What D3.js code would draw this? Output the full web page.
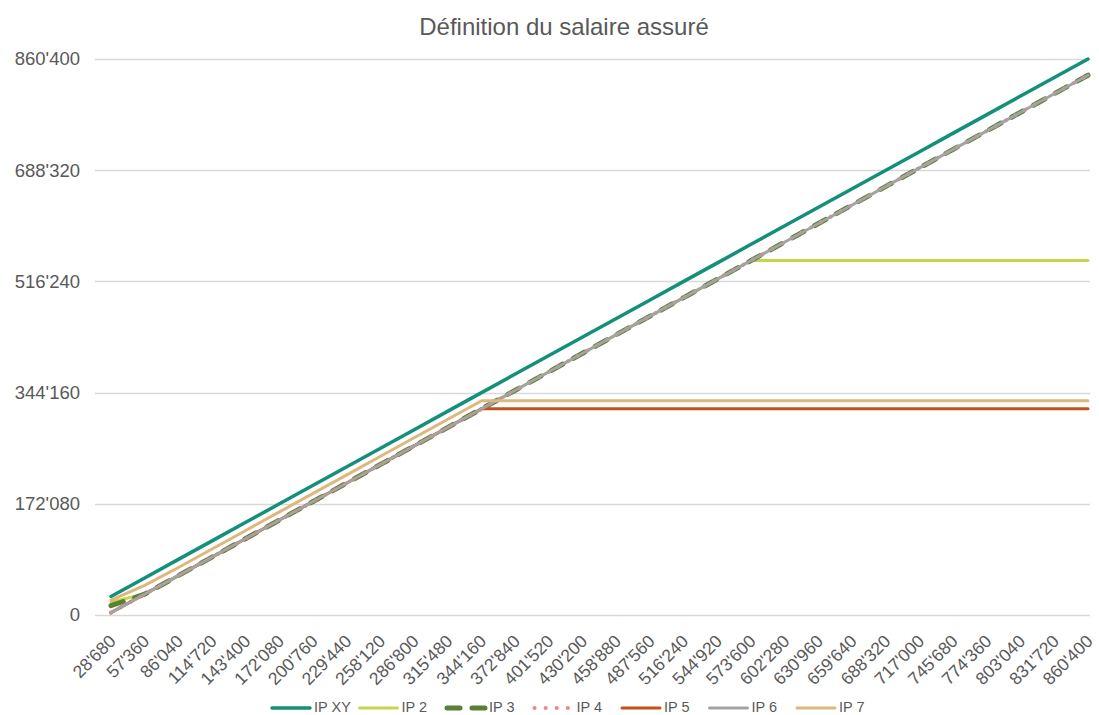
<!DOCTYPE html>
<html lang="fr">
<head>
<meta charset="utf-8">
<title>Définition du salaire assuré</title>
<script src="https://cdn.jsdelivr.net/npm/d3@7"></script>
<style>
  html, body { margin: 0; padding: 0; background: #fff; }
  svg { display: block; font-family: "Liberation Sans", Arial, sans-serif; }
</style>
</head>
<body>
<svg id="chart" width="1099" height="715"></svg>
<script>
// Salaires annuels (catégories de l'axe horizontal)
const salaries = [28680, 57360, 86040, 114720, 143400, 172080, 200760, 229440, 258120, 286800,
  315480, 344160, 372840, 401520, 430200, 458880, 487560, 516240, 544920, 573600,
  602280, 630960, 659640, 688320, 717000, 745680, 774360, 803040, 831720, 860400];

// Salaire assuré selon chaque plan
const ipXY = [28680, 57360, 86040, 114720, 143400, 172080, 200760, 229440, 258120, 286800,
  315480, 344160, 372840, 401520, 430200, 458880, 487560, 516240, 544920, 573600,
  602280, 630960, 659640, 688320, 717000, 745680, 774360, 803040, 831720, 860400];
const ip2 = [20076, 32265, 60945, 89625, 118305, 146985, 175665, 204345, 233025, 261705,
  290385, 319065, 347745, 376425, 405105, 433785, 462465, 491145, 519825, 548505,
  548505, 548505, 548505, 548505, 548505, 548505, 548505, 548505, 548505, 548505];
const ip3 = [14340, 32265, 60945, 89625, 118305, 146985, 175665, 204345, 233025, 261705,
  290385, 319065, 347745, 376425, 405105, 433785, 462465, 491145, 519825, 548505,
  577185, 605865, 634545, 663225, 691905, 720585, 749265, 777945, 806625, 835305];
const ip4 = [3585, 32265, 60945, 89625, 118305, 146985, 175665, 204345, 233025, 261705,
  290385, 319065, 347745, 376425, 405105, 433785, 462465, 491145, 519825, 548505,
  577185, 605865, 634545, 663225, 691905, 720585, 749265, 777945, 806625, 835305];
const ip5 = [3585, 32265, 60945, 89625, 118305, 146985, 175665, 204345, 233025, 261705,
  290385, 319065, 319065, 319065, 319065, 319065, 319065, 319065, 319065, 319065,
  319065, 319065, 319065, 319065, 319065, 319065, 319065, 319065, 319065, 319065];
const ip6 = [3585, 32265, 60945, 89625, 118305, 146985, 175665, 204345, 233025, 261705,
  290385, 319065, 347745, 376425, 405105, 433785, 462465, 491145, 519825, 548505,
  577185, 605865, 634545, 663225, 691905, 720585, 749265, 777945, 806625, 835305];
const ip7 = [22944, 45888, 73493, 102173, 130853, 159533, 188213, 216893, 245573, 274253,
  302933, 331613, 331613, 331613, 331613, 331613, 331613, 331613, 331613, 331613,
  331613, 331613, 331613, 331613, 331613, 331613, 331613, 331613, 331613, 331613];

const yTicks = [0, 172080, 344160, 516240, 688320, 860400];
const seriesNames = ["IP XY", "IP 2", "IP 3", "IP 4", "IP 5", "IP 6", "IP 7"];

const series = [
  { name: seriesNames[0], values: ipXY, color: "#14907a", width: 3.5, dash: null },
  { name: seriesNames[1], values: ip2,  color: "#c6d64a", width: 3,   dash: null },
  { name: seriesNames[2], values: ip3,  color: "#5b7f36", width: 5,   dash: "13 12" },
  { name: seriesNames[3], values: ip4,  color: "#f08583", width: 4,   dash: "0.1 11" },
  { name: seriesNames[4], values: ip5,  color: "#c4511b", width: 3,   dash: null },
  { name: seriesNames[5], values: ip6,  color: "#a3a3a3", width: 3,   dash: null },
  { name: seriesNames[6], values: ip7,  color: "#e0b67f", width: 3,   dash: null }
];

const fmt = v => d3.format(",")(v).replace(/,/g, "'");
const textColor = "#595959";
const gridColor = "#d9d9d9";

const svg = d3.select("#chart");

const plotLeft = 95, plotRight = 1090, plotTop = 59, plotBottom = 615;

const x = d3.scalePoint().domain(salaries).range([111, 1088]);
const y = d3.scaleLinear().domain([0, 860400]).range([plotBottom, plotTop]);

// Title
svg.append("text")
  .attr("x", 564).attr("y", 35)
  .attr("text-anchor", "middle")
  .attr("fill", textColor)
  .attr("font-size", 24)
  .text("Définition du salaire assuré");

// Horizontal gridlines
svg.append("g")
  .selectAll("line")
  .data(yTicks)
  .join("line")
  .attr("x1", plotLeft).attr("x2", plotRight)
  .attr("y1", d => Math.round(y(d)) + 0.5).attr("y2", d => Math.round(y(d)) + 0.5)
  .attr("stroke", gridColor).attr("stroke-width", 1.3);

// Y axis labels
const yAxis = d3.axisLeft(y).tickValues(yTicks).tickFormat(fmt).tickSize(0).tickPadding(15);
const gy = svg.append("g").attr("transform", `translate(${plotLeft},0)`).call(yAxis);
gy.select(".domain").remove();
gy.selectAll("text").attr("fill", textColor).attr("font-size", 18.5)
  .attr("font-family", "'Liberation Sans', Arial, sans-serif");

// X axis labels (rotated)
const xAxis = d3.axisBottom(x).tickFormat(fmt).tickSize(0).tickPadding(0);
const gx = svg.append("g").attr("transform", `translate(0,${plotBottom})`).call(xAxis);
gx.select(".domain").remove();
gx.selectAll("text")
  .attr("fill", textColor).attr("font-size", 17.5)
  .attr("font-family", "'Liberation Sans', Arial, sans-serif")
  .attr("text-anchor", "end")
  .attr("dy", null)
  .attr("y", 0)
  .attr("transform", "translate(2,24) rotate(-45)")
  .attr("dominant-baseline", "middle");

// Series lines
const line = d3.line().x((d, i) => x(salaries[i])).y(d => y(d));
svg.append("g")
  .selectAll("path")
  .data(series)
  .join("path")
  .attr("d", s => line(s.values))
  .attr("fill", "none")
  .attr("stroke", s => s.color)
  .attr("stroke-width", s => s.width)
  .attr("stroke-dasharray", s => s.dash)
  .attr("stroke-linecap", "round")
  .attr("stroke-linejoin", "round");

// Legend
const legend = svg.append("g").attr("transform", "translate(270,708)");
const item = legend.selectAll("g")
  .data(series)
  .join("g")
  .attr("transform", (d, i) => `translate(${i * 87.5},0)`);
item.append("line")
  .attr("x1", 2).attr("x2", 40).attr("y1", 0).attr("y2", 0)
  .attr("stroke", d => d.color)
  .attr("stroke-width", d => d.width)
  .attr("stroke-dasharray", d => d.dash)
  .attr("stroke-linecap", "round");
item.append("text")
  .attr("x", 44).attr("y", 0)
  .attr("dominant-baseline", "middle")
  .attr("fill", textColor)
  .attr("font-size", 14.5)
  .text(d => d.name);
</script>
</body>
</html>
